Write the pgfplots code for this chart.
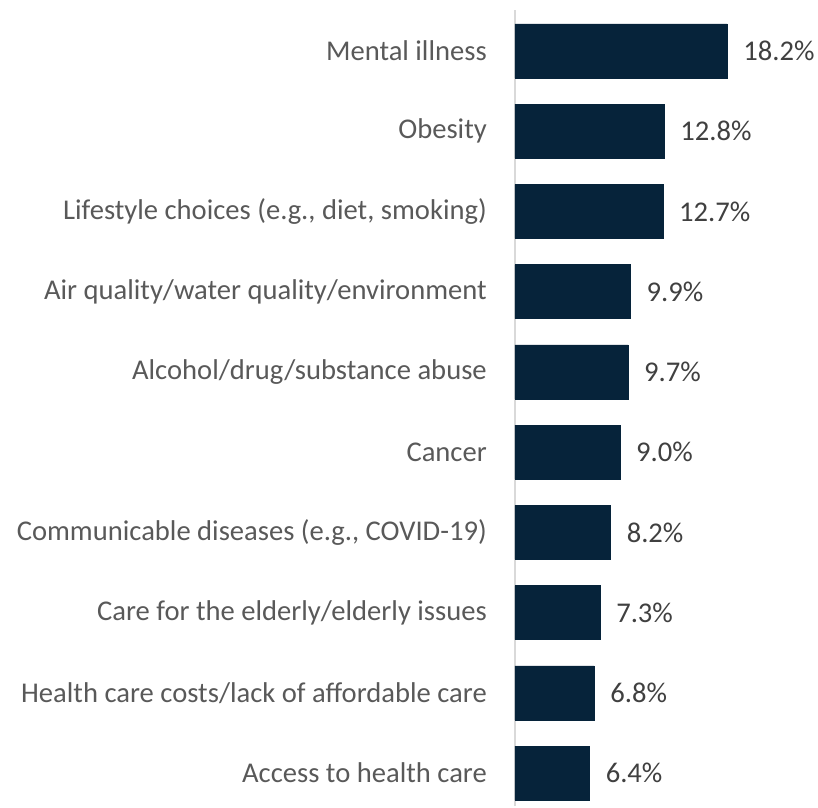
\documentclass[border=0pt]{standalone}
\usepackage{pgfplots}
\pgfplotsset{compat=1.18}
\usepackage{fontspec}
\setmainfont{Carlito}
\definecolor{barcol}{HTML}{06233A}
\definecolor{labcol}{HTML}{595959}
\definecolor{valcol}{HTML}{404040}
\definecolor{axcol}{HTML}{D9D9D9}
\begin{document}
\begin{tikzpicture}
\begin{axis}[
  xbar,
  scale only axis,
  width=303pt, height=796pt,
  xmin=0, xmax=26,
  ymin=-0.41, ymax=9.51,
  axis x line=none,
  axis y line*=left,
  y axis line style={draw=axcol, line width=2pt, -},
  ytick={0,...,9},
  yticklabels={Access to health care,
    Health care costs/lack of affordable care,
    Care for the elderly/elderly issues,
    {Communicable diseases (e.g., COVID-19)},
    Cancer,
    Alcohol/drug/substance abuse,
    Air quality/water quality/environment,
    {Lifestyle choices (e.g., diet, smoking)},
    Obesity,
    Mental illness},
  major tick length=0pt,
  ytick style={draw=none},
  yticklabel style={font=\fontsize{28.6}{33}\selectfont, text=labcol, inner sep=0pt, xshift=-28pt},
  bar width=54pt,
  nodes near coords={\pgfmathprintnumber[fixed,fixed zerofill,precision=1,assume math mode=true]{\pgfplotspointmeta}\%},
  every node near coord/.append style={font=\fontsize{28.6}{33}\selectfont, text=valcol, anchor=west, inner sep=0pt, xshift=16pt},
  clip=false,
]
\addplot[fill=barcol, draw=barcol] coordinates {
  (6.4,0) (6.8,1) (7.3,2) (8.2,3) (9.0,4) (9.7,5) (9.9,6) (12.7,7) (12.8,8) (18.2,9)
};
\coordinate (tr) at (rel axis cs:1,1);
\coordinate (br) at (rel axis cs:1,0);
\end{axis}
\path (tr) ++(0,10pt) (br) ++(-818pt,0);
\end{tikzpicture}
\end{document}
